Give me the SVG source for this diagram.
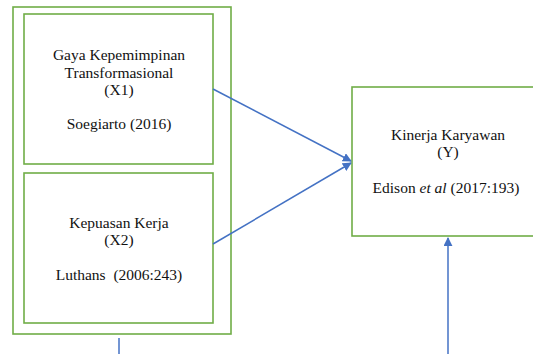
<svg xmlns="http://www.w3.org/2000/svg" width="533" height="354" viewBox="0 0 533 354">
<style>
.box{fill:none;stroke:#70AD47;stroke-width:1.6}
.c{stroke:#4472C4;stroke-width:1.5;fill:none}
</style>
<defs>
<marker id="ah" viewBox="0 0 10 10" refX="9" refY="5" markerWidth="9" markerHeight="9" markerUnits="userSpaceOnUse" orient="auto">
<path d="M0,0 L10,5 L0,10 z" fill="#4472C4"/>
</marker>
</defs>
<rect width="533" height="354" fill="#fff"/>
<g id="group-x">
<rect class="box" x="13" y="7" width="218" height="327"/>
</g>
<g id="x1">
<rect class="box" x="24" y="14" width="189" height="150"/>
<text x="119" y="60" font-family="Liberation Serif" font-size="15.5" fill="#111" text-anchor="middle">Gaya Kepemimpinan</text>
<text x="119" y="78" font-family="Liberation Serif" font-size="15.5" fill="#111" text-anchor="middle">Transformasional</text>
<text x="119" y="95" font-family="Liberation Serif" font-size="15.5" fill="#111" text-anchor="middle">(X1)</text>
<text x="119" y="129" font-family="Liberation Serif" font-size="15.5" fill="#111" text-anchor="middle">Soegiarto (2016)</text>
</g>
<g id="x2">
<rect class="box" x="24" y="173" width="189" height="150"/>
<text x="119" y="228" font-family="Liberation Serif" font-size="15.5" fill="#111" text-anchor="middle">Kepuasan Kerja</text>
<text x="119" y="245" font-family="Liberation Serif" font-size="15.5" fill="#111" text-anchor="middle">(X2)</text>
<text x="119" y="280" font-family="Liberation Serif" font-size="15.5" fill="#111" text-anchor="middle" xml:space="preserve">Luthans  (2006:243)</text>
</g>
<g id="y">
<rect class="box" x="352" y="87" width="200" height="149"/>
<text x="448" y="140" font-family="Liberation Serif" font-size="15.5" fill="#111" text-anchor="middle">Kinerja Karyawan</text>
<text x="448" y="157" font-family="Liberation Serif" font-size="15.5" fill="#111" text-anchor="middle">(Y)</text>
<text x="446" y="193" font-family="Liberation Serif" font-size="15.5" fill="#111" text-anchor="middle">Edison <tspan font-style="italic">et al</tspan> (2017:193)</text>
</g>
<g id="connectors">
<line class="c" x1="213" y1="89" x2="351" y2="161" marker-end="url(#ah)"/>
<line class="c" x1="213" y1="244" x2="351" y2="163" marker-end="url(#ah)"/>
<line class="c" x1="448" y1="354" x2="448" y2="238" marker-end="url(#ah)"/>
<line class="c" x1="119" y1="338" x2="119" y2="354"/>
</g>
</svg>
